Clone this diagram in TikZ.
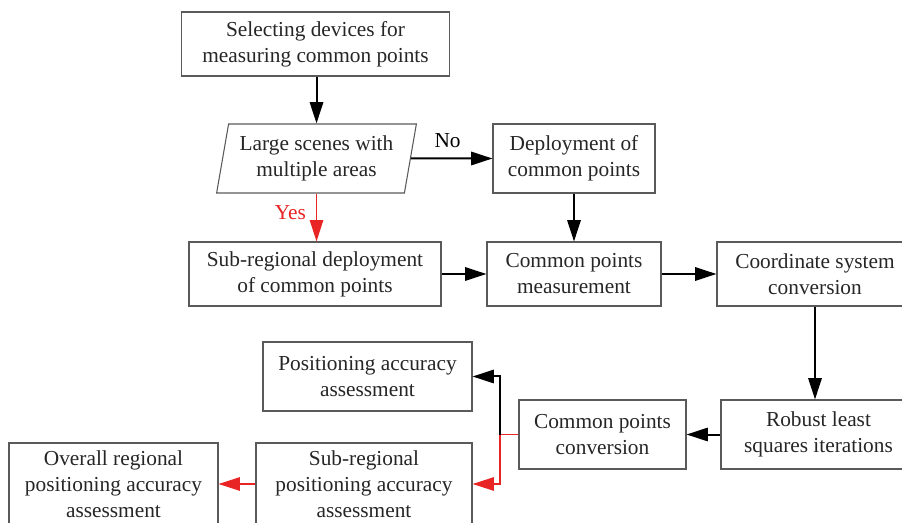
\documentclass[tikz,border=0pt]{standalone}
\usepackage{fontspec}
\setmainfont{Liberation Serif}
\usetikzlibrary{shapes,shapes.geometric,arrows.meta}
\definecolor{redline}{RGB}{232,36,36}
\definecolor{boxline}{RGB}{90,90,90}
\begin{document}
\begin{tikzpicture}[x=0.75pt,y=-0.75pt]
			\useasboundingbox (0,0) rectangle (902,523);
			\begin{scope}
				[
					styleStep/.style={
						draw=boxline, line width=0.8pt, inner sep=0pt,
						minimum width=#1, align=center, text=black!85,
						font=\fontsize{16}{19.5}\selectfont
						},
					styleStep/.default={150pt},
					styleDecide/.style={
						trapezium, trapezium left angle=77, trapezium right angle=103,
						trapezium stretches=true,
						draw=boxline, line width=0.8pt, inner sep=0pt,
						minimum width=150pt, minimum height=51.75pt, align=center,
						text=black!85, font=\fontsize{16}{19.5}\selectfont
						},
				]
				\node(select)[styleStep=201pt, minimum height=48pt] at (315.5,44) {Selecting devices for\\measuring common points};
				\node(scene)[styleDecide] at (316.5,158.5) {Large scenes with\\multiple areas};
				\node(deploy)[styleStep=121.5pt, minimum height=51.75pt] at (574,158.5) {Deployment of\\common points};
				\node(subdeploy)[styleStep=189pt, minimum height=48pt] at (315,274) {Sub-regional deployment\\of common points};
				\node(measure)[styleStep=130.5pt, minimum height=48pt] at (574,274) {Common points\\measurement};
				\node(coord)[styleStep=147pt, minimum height=48pt] at (815,274) {Coordinate system\\conversion};
				\node(robust)[styleStep=146.25pt, minimum height=51.75pt] at (818.5,434.5) {Robust least\\squares iterations};
				\node(convert)[styleStep=125.25pt, minimum height=51.75pt] at (602.5,434.5) {Common points\\conversion};
				\node(posacc)[styleStep=156.75pt, minimum height=51.75pt] at (367.5,376.5) {Positioning accuracy\\assessment};
				\node(subacc)[styleStep=162pt, minimum height=61.5pt] at (364,484) {Sub-regional\\positioning accuracy\\assessment};
				\node(overall)[styleStep=156.75pt, minimum height=61.5pt] at (113.5,484) {Overall regional\\positioning accuracy\\assessment};
				\coordinate(split) at (500,434.5);
			\end{scope}
			
			\begin{scope}
				[ flow/.style = {-{Triangle[length=16pt,width=10pt]}, line width=1.5pt},
					yes/.style = {flow, draw=redline, line width=1.2pt},
					label/.style = {font=\fontsize{16}{19.5}\selectfont}]
				\path 
				(scene) edge[flow]                  node[label, above, pos=0.45, yshift=4pt]{No}(deploy)
				(deploy) edge[flow]                 node{}(measure)
				(subdeploy) edge[flow]              node{}(measure)
				(measure) edge[flow]                node{}(coord)
				(robust) edge[flow]                 node{}(convert)
				(subacc) edge[yes]                  node{}(overall);
				\draw[flow] (select.south -| scene.north) -- (scene.north);
				\draw[yes] (scene.south) -- node[label, left, text=redline, pos=0.4, xshift=-4pt]{Yes} (scene.south |- subdeploy.north);
				\draw[flow] (coord.south) -- (coord.south |- robust.north);
				\draw[draw=redline, line width=1.2pt] (convert.west) -- (split);
				\draw[flow] (split) |- (posacc.east);
				\draw[yes] (split) |- (subacc.east);
			\end{scope}
		\end{tikzpicture}
\end{document}
